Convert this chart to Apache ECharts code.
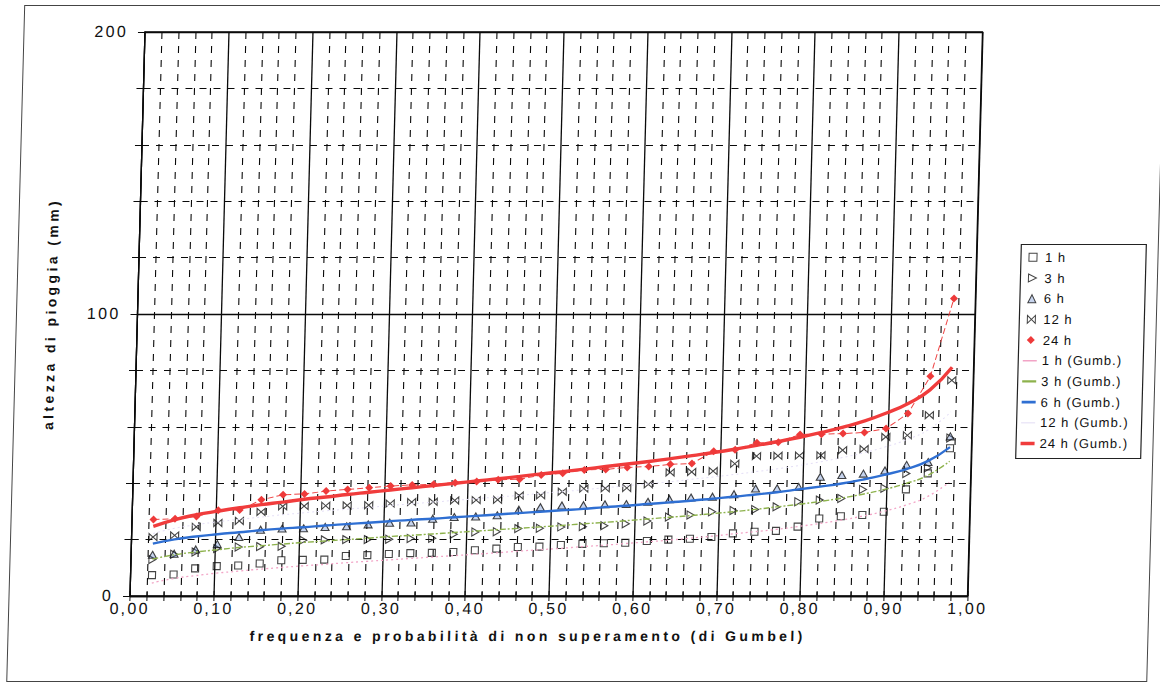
<!DOCTYPE html>
<html>
<head>
<meta charset="utf-8">
<script src="https://cdn.jsdelivr.net/npm/echarts@6.0.0/dist/echarts.min.js"></script>
<style>
  html, body { margin: 0; padding: 0; background: #fff; overflow: hidden; }
  #chart {
    width: 1160px; height: 695px;
    transform: skewX(-1.52deg);
    transform-origin: 580px 314px;
  }
  /* wide print-style character spacing per text group */
  #chart text[style*="16px"] { letter-spacing: 2.3px; }
  #chart text[style*="14px"] { letter-spacing: 3.4px; }
  #chart text[style*="13px"] { letter-spacing: 1px; }
</style>
</head>
<body>
<div id="chart"></div>
<script>
// Plotting positions (non-exceedance frequency) of the 38 ranked annual maxima
const freq = [0.0256, 0.0513, 0.0769, 0.1026, 0.1282, 0.1538, 0.1795, 0.2051, 0.2308, 0.2564,
              0.2821, 0.3077, 0.3333, 0.3590, 0.3846, 0.4103, 0.4359, 0.4615, 0.4872, 0.5128,
              0.5385, 0.5641, 0.5897, 0.6154, 0.6410, 0.6667, 0.6923, 0.7179, 0.7436, 0.7692,
              0.7949, 0.8205, 0.8462, 0.8718, 0.8974, 0.9231, 0.9487, 0.9744];

// Observed rainfall depths (mm), sorted ascending, per duration
const h1  = [7.4, 7.6, 9.8, 10.6, 10.8, 11.5, 12.7, 12.8, 12.9, 14.2,
             14.5, 14.9, 15.2, 15.3, 15.6, 16.2, 16.8, 17.4, 17.5, 18.1,
             18.5, 18.7, 18.9, 19.5, 20.0, 20.3, 20.9, 22.2, 22.8, 23.1,
             24.6, 27.5, 28.3, 28.7, 29.9, 37.8, 43.5, 52.4];
const h3  = [12.9, 14.8, 15.6, 16.8, 17.4, 17.5, 17.6, 19.8, 19.9, 20.0,
             20.0, 20.1, 20.4, 20.5, 21.9, 22.7, 22.8, 23.9, 24.0, 24.5,
             24.6, 24.9, 25.6, 26.6, 28.0, 28.7, 29.9, 30.3, 30.7, 31.6,
             33.4, 34.0, 34.6, 37.8, 38.2, 43.4, 45.5, 56.0];
const h6  = [14.6, 15.0, 16.5, 18.4, 20.9, 23.5, 23.9, 24.0, 24.5, 24.7,
             25.4, 26.0, 26.1, 27.4, 28.0, 28.2, 28.6, 30.6, 31.5, 32.1,
             32.2, 32.5, 32.6, 33.4, 34.3, 34.9, 35.2, 36.1, 38.1, 38.2,
             38.7, 42.3, 42.9, 43.4, 44.5, 46.5, 47.5, 56.6];
const h12 = [20.9, 21.5, 24.5, 25.9, 26.6, 29.8, 31.8, 31.9, 32.0, 32.1,
             32.2, 32.8, 33.3, 33.4, 33.9, 34.0, 34.1, 35.6, 35.7, 37.0,
             38.1, 38.2, 38.3, 39.6, 43.8, 44.0, 44.3, 46.9, 49.6, 49.7,
             49.8, 49.9, 51.7, 52.1, 56.4, 57.0, 64.1, 76.5];
const h24 = [27.1, 27.4, 28.2, 30.4, 30.5, 34.1, 35.9, 36.2, 37.2, 37.8,
             38.4, 39.0, 39.4, 39.6, 40.2, 40.6, 41.2, 41.4, 42.9, 43.5,
             44.7, 44.9, 45.6, 45.9, 46.7, 47.0, 51.3, 51.9, 54.3, 54.5,
             57.3, 57.4, 57.6, 58.0, 59.4, 64.7, 77.9, 105.5];

// Gumbel-fitted depths (mm) at the same frequencies
const g1  = [4.6, 6.2, 7.2, 8.1, 8.8, 9.5, 10.1, 10.7, 11.2, 11.8,
             12.3, 12.8, 13.3, 13.8, 14.3, 14.8, 15.3, 15.9, 16.4, 16.9,
             17.5, 18.0, 18.6, 19.2, 19.8, 20.5, 21.2, 22.0, 22.8, 23.6,
             24.6, 25.7, 26.9, 28.3, 30.0, 32.2, 35.2, 40.3];
const g3  = [13.1, 14.6, 15.6, 16.4, 17.2, 17.8, 18.4, 19.0, 19.5, 20.0,
             20.5, 21.1, 21.5, 22.0, 22.5, 23.0, 23.5, 24.0, 24.5, 25.0,
             25.6, 26.1, 26.7, 27.3, 27.9, 28.5, 29.2, 29.9, 30.7, 31.6,
             32.5, 33.5, 34.7, 36.1, 37.8, 39.9, 42.8, 47.8];
const g6  = [18.6, 20.1, 21.1, 21.9, 22.6, 23.3, 23.9, 24.4, 25.0, 25.5,
             26.0, 26.5, 27.0, 27.4, 27.9, 28.4, 28.9, 29.4, 29.9, 30.4,
             30.9, 31.5, 32.0, 32.6, 33.2, 33.8, 34.5, 35.2, 36.0, 36.8,
             37.8, 38.8, 39.9, 41.3, 43.0, 45.0, 47.9, 52.8];
const g12 = [22.2, 24.0, 25.3, 26.3, 27.2, 28.0, 28.8, 29.5, 30.2, 30.8,
             31.4, 32.1, 32.7, 33.3, 33.9, 34.5, 35.1, 35.7, 36.4, 37.0,
             37.7, 38.4, 39.1, 39.8, 40.5, 41.4, 42.2, 43.1, 44.1, 45.1,
             46.3, 47.6, 49.1, 50.8, 52.9, 55.5, 59.1, 65.3];
const g24 = [24.7, 27.1, 28.8, 30.1, 31.3, 32.4, 33.3, 34.3, 35.1, 36.0,
             36.8, 37.6, 38.4, 39.2, 40.0, 40.8, 41.6, 42.4, 43.3, 44.1,
             45.0, 45.9, 46.8, 47.7, 48.7, 49.8, 50.9, 52.1, 53.4, 54.8,
             56.3, 58.0, 59.9, 62.1, 64.9, 68.3, 73.1, 81.1];

// Legend / series names
const obsNames = ['1 h', '3 h', '6 h', '12 h', '24 h'];
const fitNames = ['1 h (Gumb.)', '3 h (Gumb.)', '6 h (Gumb.)', '12 h (Gumb.)', '24 h (Gumb.)'];

// Axis titles
const xTitle = 'frequenza e probabilità di non superamento (di Gumbel)';
const yTitle = 'altezza di pioggia (mm)';

const FONT = '"Liberation Sans", Arial, Helvetica, sans-serif';
const INK = '#0a0a0a';

// Marker shapes
const SQUARE  = 'path://M0,0H10V10H0Z';
const TRI_R   = 'path://M0,0L10,5L0,10Z';
const TRI_U   = 'path://M5,0L10,10L0,10Z';
const BOWTIE  = 'path://M0,0L10,10V0L0,10Z';
const DIAMOND = 'path://M5,0L10,5L5,10L0,5Z';

function pairs(ys) { return freq.map((f, i) => [f, ys[i]]); }

const hollow = { color: 'rgba(255,255,255,0)', borderColor: '#151515', borderWidth: 1.1 };

const series = [
  { name: obsNames[0], type: 'scatter', data: pairs(h1), symbol: SQUARE, symbolSize: 7,
    itemStyle: hollow },
  { name: obsNames[1], type: 'scatter', data: pairs(h3), symbol: TRI_R, symbolSize: [7, 8],
    itemStyle: hollow },
  { name: obsNames[2], type: 'scatter', data: pairs(h6), symbol: TRI_U, symbolSize: [8, 7],
    itemStyle: { color: 'rgba(80,120,200,0.4)', borderColor: '#151515', borderWidth: 1.1 } },
  { name: obsNames[3], type: 'scatter', data: pairs(h12), symbol: BOWTIE, symbolSize: [8, 7],
    itemStyle: hollow },
  { name: obsNames[4], type: 'line', data: pairs(h24), symbol: DIAMOND, symbolSize: 8,
    showSymbol: true, smooth: false,
    itemStyle: { color: '#ee3a3a' },
    lineStyle: { color: '#ee4444', width: 1, type: [6, 3] } },

  { name: fitNames[0], type: 'line', data: pairs(g1), smooth: true, showSymbol: false, symbol: 'none',
    itemStyle: { color: '#f2a4c6' }, lineStyle: { color: '#f2a4c6', width: 1.3, type: [2, 3] } },
  { name: fitNames[1], type: 'line', data: pairs(g3), smooth: true, showSymbol: false, symbol: 'none',
    itemStyle: { color: '#8db24c' }, lineStyle: { color: '#8db24c', width: 1.4, type: [6, 2, 2, 2] } },
  { name: fitNames[2], type: 'line', data: pairs(g6), smooth: true, showSymbol: false, symbol: 'none',
    itemStyle: { color: '#2f6fd2' }, lineStyle: { color: '#2f6fd2', width: 2.4 } },
  { name: fitNames[3], type: 'line', data: pairs(g12), smooth: true, showSymbol: false, symbol: 'none',
    itemStyle: { color: '#ece8f8' }, lineStyle: { color: '#e4def6', width: 1, type: [2, 3] } },
  { name: fitNames[4], type: 'line', data: pairs(g24), smooth: true, showSymbol: false, symbol: 'none',
    itemStyle: { color: '#f03c3c' }, lineStyle: { color: '#f03c3c', width: 3.4 } }
];

const legendText = { fontFamily: FONT, fontSize: 13, color: '#111' };

const option = {
  animation: false,
  backgroundColor: '#ffffff',
  grid: { left: 137.5, top: 32, width: 837.5, height: 564, show: true,
          borderColor: INK, borderWidth: 1.3, backgroundColor: 'transparent' },
  xAxis: [{
    type: 'value', min: 0, max: 1, interval: 0.1, position: 'bottom',
    name: xTitle, nameLocation: 'middle', nameGap: 33,
    nameTextStyle: { fontFamily: FONT, fontSize: 14, fontWeight: 'bold', color: '#111',
                     padding: [0, 40, 0, 0] },
    axisLine: { show: true, onZero: false, lineStyle: { color: INK, width: 1.3 } },
    axisTick: { show: true, length: 5, lineStyle: { color: INK } },
    minorTick: { show: true, splitNumber: 5, length: 5, lineStyle: { color: INK } },
    axisLabel: { fontFamily: FONT, fontSize: 16, color: '#111', margin: 4,
                 formatter: v => v.toFixed(2).replace('.', ',') },
    splitLine: { show: true, lineStyle: { color: INK, width: 1.3 } },
    minorSplitLine: { show: true, lineStyle: { color: INK, width: 1.1, type: [7, 7] } }
  }, {
    // inner half of the crossing tick marks
    type: 'value', min: 0, max: 1, interval: 0.1, position: 'bottom',
    axisLine: { show: false }, axisLabel: { show: false }, splitLine: { show: false },
    axisTick: { show: true, inside: true, length: 5, lineStyle: { color: INK } },
    minorTick: { show: true, splitNumber: 5, length: 5, lineStyle: { color: INK } }
  }],
  yAxis: [{
    type: 'value', min: 0, max: 200, interval: 100, position: 'left',
    name: yTitle, nameLocation: 'middle', nameGap: 79.5,
    nameTextStyle: { fontFamily: FONT, fontSize: 14, fontWeight: 'bold', color: '#111' },
    axisLine: { show: true, onZero: false, lineStyle: { color: INK, width: 1.3 } },
    axisTick: { show: true, length: 7, lineStyle: { color: INK } },
    minorTick: { show: true, splitNumber: 5, length: 7, lineStyle: { color: INK } },
    axisLabel: { fontFamily: FONT, fontSize: 16, color: '#111', margin: 17 },
    splitLine: { show: true, lineStyle: { color: INK, width: 1.3 } },
    minorSplitLine: { show: true, lineStyle: { color: INK, width: 1.1, type: [7, 7] } }
  }, {
    type: 'value', min: 0, max: 200, interval: 100, position: 'left',
    axisLine: { show: false }, axisLabel: { show: false }, splitLine: { show: false },
    axisTick: { show: true, inside: true, length: 7, lineStyle: { color: INK } },
    minorTick: { show: true, splitNumber: 5, length: 7, lineStyle: { color: INK } }
  }],
  legend: [{
    orient: 'vertical', left: 1027, top: 250.8, padding: 0, itemGap: 7.7,
    itemWidth: 14, itemHeight: 8, selectedMode: false,
    itemStyle: { borderWidth: 1 },
    textStyle: legendText,
    data: [
      { name: obsNames[0], icon: SQUARE },
      { name: obsNames[1], icon: TRI_R },
      { name: obsNames[2], icon: TRI_U },
      { name: obsNames[3], icon: BOWTIE },
      { name: obsNames[4], icon: DIAMOND }
    ]
  }, {
    orient: 'vertical', left: 1024, top: 354.2, padding: 0, itemGap: 7.7,
    itemWidth: 14, itemHeight: 8, selectedMode: false,
    itemStyle: { borderWidth: 0 },
    textStyle: legendText,
    data: [
      { name: fitNames[0], icon: 'path://M0,0H14V1.6H0Z' },
      { name: fitNames[1], icon: 'path://M0,0H14V2.2H0Z' },
      { name: fitNames[2], icon: 'path://M0,0H14V2.6H0Z' },
      { name: fitNames[3], icon: 'path://M0,0H14V1.6H0Z' },
      { name: fitNames[4], icon: 'path://M0,0H14V3.4H0Z' }
    ]
  }],
  graphic: [
    { type: 'rect', silent: true, z: -1,
      shape: { x: 16.5, y: 5.5, width: 1140, height: 676 },
      style: { fill: 'none', stroke: '#444', lineWidth: 1 } },
    { type: 'rect', silent: true,
      shape: { x: 1019.5, y: 244.5, width: 125, height: 214 },
      style: { fill: 'none', stroke: '#222', lineWidth: 1.2 } }
  ],
  series: series
};

const chart = echarts.init(document.getElementById('chart'), null, { renderer: 'svg' });
chart.setOption(option);
</script>
</body>
</html>
